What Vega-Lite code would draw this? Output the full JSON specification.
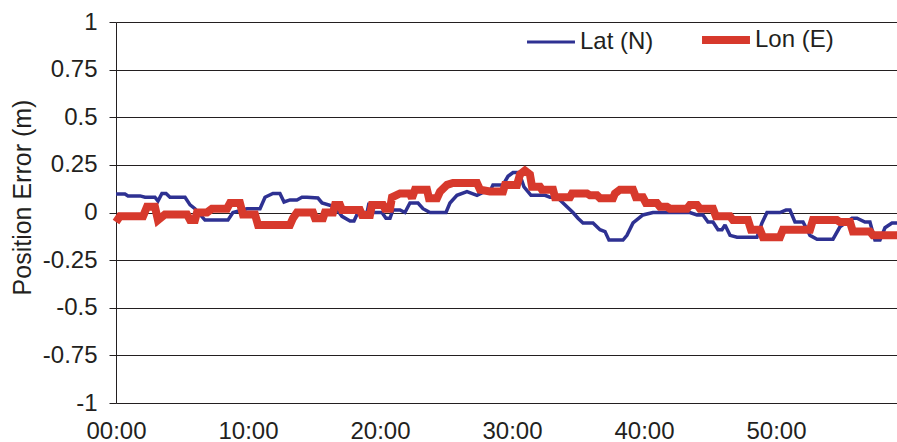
{
  "$schema": "https://vega.github.io/schema/vega-lite/v6.json",
  "width": 781,
  "height": 381,
  "autosize": {"type": "none"},
  "padding": {"left": 116, "top": 22, "right": 0, "bottom": 39},
  "background": "white",
  "config": {
    "view": {"stroke": null},
    "font": "Liberation Sans",
    "axis": {"labelFont": "Liberation Sans", "titleFont": "Liberation Sans", "labelColor": "#231F20", "titleColor": "#231F20"},
    "legend": {"labelFont": "Liberation Sans"}
  },
  "datasets": {
    "lat": [
      {"t": 0, "v": 0.097}, {"t": 0.68, "v": 0.097}, {"t": 0.91, "v": 0.087}, {"t": 1.82, "v": 0.087},
      {"t": 2.2, "v": 0.08}, {"t": 2.95, "v": 0.08}, {"t": 3.18, "v": 0.06}, {"t": 3.48, "v": 0.1},
      {"t": 3.79, "v": 0.1}, {"t": 4.09, "v": 0.08}, {"t": 5.23, "v": 0.08}, {"t": 5.61, "v": 0.04},
      {"t": 5.98, "v": 0.02}, {"t": 6.74, "v": -0.04}, {"t": 8.48, "v": -0.04}, {"t": 8.86, "v": 0},
      {"t": 9.92, "v": 0.02}, {"t": 10.91, "v": 0.02}, {"t": 11.29, "v": 0.08}, {"t": 11.89, "v": 0.1},
      {"t": 12.42, "v": 0.1}, {"t": 12.73, "v": 0.055}, {"t": 13.18, "v": 0.066}, {"t": 13.71, "v": 0.066},
      {"t": 14.09, "v": 0.08}, {"t": 14.47, "v": 0.08}, {"t": 15.3, "v": 0.076}, {"t": 15.61, "v": 0.05},
      {"t": 16.59, "v": 0.03}, {"t": 17.12, "v": -0.02}, {"t": 17.73, "v": -0.045}, {"t": 18.03, "v": -0.045},
      {"t": 18.33, "v": 0}, {"t": 19.02, "v": 0}, {"t": 19.17, "v": 0.05}, {"t": 19.39, "v": 0},
      {"t": 20.15, "v": 0}, {"t": 20.45, "v": -0.03}, {"t": 20.76, "v": -0.03}, {"t": 20.98, "v": 0.013},
      {"t": 21.52, "v": 0.013}, {"t": 21.89, "v": 0}, {"t": 22.27, "v": 0.05}, {"t": 22.88, "v": 0.05},
      {"t": 23.26, "v": 0.02}, {"t": 23.79, "v": 0}, {"t": 25.0, "v": 0}, {"t": 25.3, "v": 0.05},
      {"t": 25.83, "v": 0.09}, {"t": 26.59, "v": 0.11}, {"t": 27.35, "v": 0.09}, {"t": 27.8, "v": 0.105},
      {"t": 28.33, "v": 0.11}, {"t": 28.56, "v": 0.145}, {"t": 29.32, "v": 0.145}, {"t": 29.7, "v": 0.19},
      {"t": 30.08, "v": 0.21}, {"t": 30.53, "v": 0.21}, {"t": 30.91, "v": 0.135}, {"t": 31.44, "v": 0.09},
      {"t": 32.5, "v": 0.09}, {"t": 32.88, "v": 0.08}, {"t": 33.41, "v": 0.08}, {"t": 33.79, "v": 0.055},
      {"t": 34.62, "v": 0}, {"t": 35.0, "v": -0.03}, {"t": 35.38, "v": -0.055}, {"t": 36.14, "v": -0.055},
      {"t": 36.67, "v": -0.09}, {"t": 37.05, "v": -0.1}, {"t": 37.35, "v": -0.145}, {"t": 38.41, "v": -0.145},
      {"t": 38.71, "v": -0.12}, {"t": 39.17, "v": -0.055}, {"t": 39.92, "v": -0.013}, {"t": 40.68, "v": 0},
      {"t": 43.48, "v": 0}, {"t": 44.02, "v": -0.013}, {"t": 44.47, "v": -0.013}, {"t": 44.85, "v": -0.05},
      {"t": 45.23, "v": -0.05}, {"t": 45.61, "v": -0.09}, {"t": 45.91, "v": -0.09}, {"t": 46.14, "v": -0.065},
      {"t": 46.52, "v": -0.12}, {"t": 47.05, "v": -0.13}, {"t": 48.56, "v": -0.13}, {"t": 48.94, "v": -0.055},
      {"t": 49.32, "v": 0}, {"t": 50.3, "v": 0}, {"t": 50.76, "v": 0.013}, {"t": 51.06, "v": 0.013},
      {"t": 51.44, "v": -0.05}, {"t": 52.05, "v": -0.05}, {"t": 52.58, "v": -0.12}, {"t": 53.11, "v": -0.14},
      {"t": 54.32, "v": -0.14}, {"t": 54.85, "v": -0.075}, {"t": 55.76, "v": -0.03}, {"t": 56.14, "v": -0.03},
      {"t": 56.74, "v": -0.05}, {"t": 57.12, "v": -0.05}, {"t": 57.5, "v": -0.145}, {"t": 57.88, "v": -0.145},
      {"t": 58.26, "v": -0.08}, {"t": 58.79, "v": -0.055}, {"t": 59.17, "v": -0.055}
    ],
    "lon": [
      {"t": 0, "v": -0.05}, {"t": 0.3, "v": -0.02}, {"t": 2.05, "v": -0.02}, {"t": 2.35, "v": 0.03},
      {"t": 2.95, "v": 0.03}, {"t": 3.18, "v": -0.04}, {"t": 3.71, "v": -0.01}, {"t": 5.38, "v": -0.01},
      {"t": 5.61, "v": -0.04}, {"t": 5.98, "v": -0.04}, {"t": 6.14, "v": 0}, {"t": 6.89, "v": 0},
      {"t": 7.27, "v": 0.02}, {"t": 8.41, "v": 0.02}, {"t": 8.64, "v": 0.05}, {"t": 9.39, "v": 0.05},
      {"t": 9.62, "v": -0.01}, {"t": 10.53, "v": -0.01}, {"t": 10.76, "v": -0.065}, {"t": 13.18, "v": -0.065},
      {"t": 13.41, "v": -0.03}, {"t": 13.71, "v": 0}, {"t": 14.92, "v": 0}, {"t": 15.08, "v": -0.03},
      {"t": 15.68, "v": -0.03}, {"t": 15.83, "v": 0}, {"t": 16.44, "v": 0}, {"t": 16.59, "v": 0.04},
      {"t": 16.97, "v": 0.04}, {"t": 17.12, "v": 0.013}, {"t": 18.48, "v": 0.013}, {"t": 18.64, "v": -0.013},
      {"t": 19.24, "v": -0.013}, {"t": 19.39, "v": 0.04}, {"t": 20.23, "v": 0.04}, {"t": 20.38, "v": 0.02},
      {"t": 20.76, "v": 0.02}, {"t": 20.91, "v": 0.08}, {"t": 21.52, "v": 0.1}, {"t": 22.27, "v": 0.1},
      {"t": 22.42, "v": 0.075}, {"t": 22.65, "v": 0.12}, {"t": 23.56, "v": 0.12}, {"t": 23.71, "v": 0.075},
      {"t": 24.32, "v": 0.075}, {"t": 24.55, "v": 0.11}, {"t": 25.08, "v": 0.145}, {"t": 25.53, "v": 0.155},
      {"t": 27.35, "v": 0.155}, {"t": 27.58, "v": 0.12}, {"t": 28.33, "v": 0.11}, {"t": 29.32, "v": 0.11},
      {"t": 29.47, "v": 0.145}, {"t": 30.38, "v": 0.145}, {"t": 30.61, "v": 0.2}, {"t": 30.98, "v": 0.22},
      {"t": 31.36, "v": 0.2}, {"t": 31.52, "v": 0.135}, {"t": 32.12, "v": 0.135}, {"t": 32.27, "v": 0.12},
      {"t": 33.11, "v": 0.12}, {"t": 33.26, "v": 0.08}, {"t": 34.39, "v": 0.08}, {"t": 34.55, "v": 0.1},
      {"t": 35.68, "v": 0.1}, {"t": 35.91, "v": 0.09}, {"t": 36.44, "v": 0.09}, {"t": 36.67, "v": 0.075},
      {"t": 37.65, "v": 0.075}, {"t": 37.8, "v": 0.1}, {"t": 38.18, "v": 0.12}, {"t": 39.17, "v": 0.12},
      {"t": 39.39, "v": 0.08}, {"t": 39.92, "v": 0.08}, {"t": 40.15, "v": 0.05}, {"t": 40.98, "v": 0.05},
      {"t": 41.21, "v": 0.03}, {"t": 41.74, "v": 0.03}, {"t": 41.97, "v": 0.02}, {"t": 43.26, "v": 0.02},
      {"t": 43.48, "v": 0.04}, {"t": 44.02, "v": 0.04}, {"t": 44.24, "v": 0.02}, {"t": 45.23, "v": 0.02},
      {"t": 45.45, "v": -0.02}, {"t": 46.52, "v": -0.02}, {"t": 46.74, "v": -0.04}, {"t": 47.88, "v": -0.04},
      {"t": 48.11, "v": -0.09}, {"t": 48.79, "v": -0.09}, {"t": 49.02, "v": -0.13}, {"t": 50.3, "v": -0.13},
      {"t": 50.53, "v": -0.09}, {"t": 52.58, "v": -0.09}, {"t": 52.8, "v": -0.04}, {"t": 54.62, "v": -0.04},
      {"t": 54.85, "v": -0.05}, {"t": 55.61, "v": -0.05}, {"t": 55.83, "v": -0.1}, {"t": 57.12, "v": -0.1},
      {"t": 57.35, "v": -0.12}, {"t": 59.17, "v": -0.12}
    ]
  },
  "encoding": {
    "x": {
      "field": "t", "type": "quantitative",
      "scale": {"domain": [0, 59.17], "nice": false, "zero": false},
      "axis": {
        "values": [0, 10, 20, 30, 40, 50],
        "labelExpr": "(datum.value < 10 ? '0' : '') + datum.value + ':00'",
        "domain": false, "ticks": false, "grid": false, "labelFlush": false,
        "labelFontSize": 24, "labelPadding": 16, "title": null
      }
    },
    "y": {
      "field": "v", "type": "quantitative",
      "scale": {"domain": [-1, 1], "nice": false},
      "axis": {
        "values": [-1, -0.75, -0.5, -0.25, 0, 0.25, 0.5, 0.75, 1],
        "labelExpr": "'' + datum.value",
        "domain": true, "domainColor": "#231F20", "domainWidth": 1,
        "ticks": true, "tickSize": 7, "tickColor": "#231F20", "tickWidth": 1,
        "grid": true, "gridColor": "#231F20", "gridWidth": 1, "gridOpacity": 1,
        "labelFontSize": 24, "labelPadding": 12, "labelFlush": false,
        "title": "Position Error (m)", "titleFontSize": 25, "titleFontWeight": "normal",
        "titleX": -94, "titleY": 175, "titleBaseline": "middle", "titleAngle": -90
      }
    },
    "color": {
      "field": "s", "type": "nominal",
      "scale": {"domain": ["Lat (N)", "Lon (E)"], "range": ["#2E3192", "#D7392C"]},
      "legend": {
        "title": null, "orient": "none", "direction": "horizontal",
        "legendX": 411, "legendY": 6, "padding": 0,
        "symbolType": "stroke", "symbolSize": 2300, "symbolStrokeWidth": 3,
        "labelFontSize": 24, "labelColor": "#231F20", "labelOffset": 5,
        "columnPadding": 32,
        "encode": {
          "symbols": {"update": {"x": {"value": 24}, "strokeWidth": {"signal": "datum.value === 'Lat (N)' ? 3 : 8"}}},
          "labels": {"update": {"x": {"value": 53}}}
        }
      }
    }
  },
  "layer": [
    {
      "data": {"name": "lat"},
      "transform": [{"calculate": "'Lat (N)'", "as": "s"}],
      "mark": {"type": "line", "strokeWidth": 3.5, "strokeJoin": "miter", "strokeMiterLimit": 2}
    },
    {
      "data": {"name": "lon"},
      "transform": [{"calculate": "'Lon (E)'", "as": "s"}],
      "mark": {"type": "line", "strokeWidth": 8, "strokeJoin": "miter", "strokeMiterLimit": 2}
    }
  ]
}
